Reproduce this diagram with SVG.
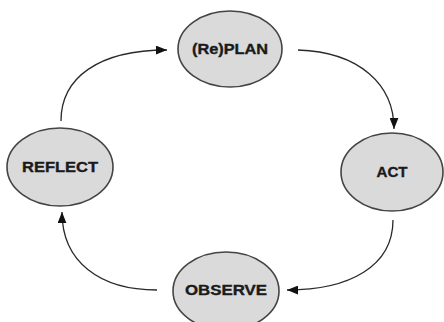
<svg xmlns="http://www.w3.org/2000/svg" width="444" height="322" viewBox="0 0 444 322">
<style>
.node ellipse{fill:#dadada;stroke:#444;stroke-width:1.6}
.node text{font-family:"Liberation Sans",Arial,sans-serif;font-weight:bold;font-size:14px;fill:#1a1a1a;stroke:#1a1a1a;stroke-width:0.35;text-anchor:middle;dominant-baseline:central}
.conn path{fill:none;stroke:#2a2a2a;stroke-width:1.3;marker-end:url(#ah)}
</style>
<defs>
<marker id="ah" viewBox="0 0 10 8" refX="10" refY="4" markerWidth="11" markerHeight="9" markerUnits="userSpaceOnUse" orient="auto">
<path d="M0,0 L10,4 L0,8 Z" fill="#111"/>
</marker>
</defs>
<rect width="444" height="322" fill="#fff"/>
<g id="connectors" class="conn">
<path d="M61,121 C61,78 98,50 167,50"/>
<path d="M298,50 C360,52 394,85 394,129"/>
<path d="M393,220 C393,266 350,290 287,290"/>
<path d="M157,290 C100,290 62,262 62,212"/>
</g>
<g id="plan" class="node"><ellipse cx="230" cy="49" rx="52" ry="38"/><text x="230" y="49" textLength="76" lengthAdjust="spacingAndGlyphs">(Re)PLAN</text></g>
<g id="act" class="node"><ellipse cx="392" cy="172" rx="51" ry="39"/><text x="392" y="172" textLength="31" lengthAdjust="spacingAndGlyphs">ACT</text></g>
<g id="reflect" class="node"><ellipse cx="60" cy="167" rx="53" ry="39"/><text x="60" y="167" textLength="76" lengthAdjust="spacingAndGlyphs">REFLECT</text></g>
<g id="observe" class="node"><ellipse cx="226" cy="291" rx="53" ry="39"/><text x="226" y="290" textLength="82" lengthAdjust="spacingAndGlyphs">OBSERVE</text></g>
</svg>
